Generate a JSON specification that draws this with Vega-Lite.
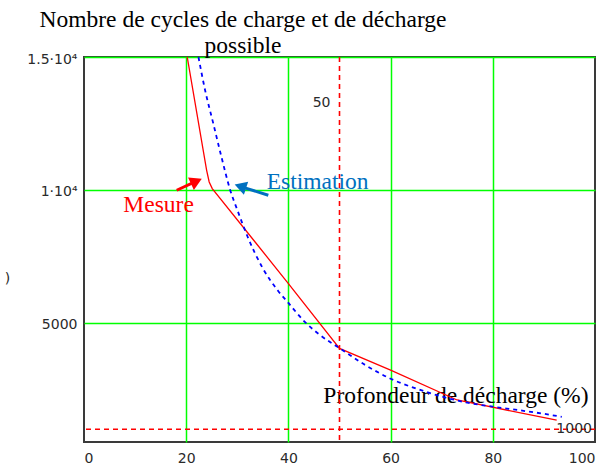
{
  "$schema": "https://vega.github.io/schema/vega-lite/v6.json",
  "width": 511,
  "height": 385,
  "autosize": {"type": "none"},
  "padding": {"left": 84, "top": 57, "right": 10, "bottom": 26},
  "background": "white",
  "title": {
    "text": ["Nombre de cycles de charge et de décharge", "possible"],
    "anchor": "start",
    "frame": "group",
    "align": "center",
    "dx": 159,
    "dy": 28,
    "baseline": "bottom",
    "offset": -1,
    "font": "Liberation Serif",
    "fontSize": 23.5,
    "fontWeight": "normal",
    "color": "black",
    "lineHeight": 26
  },
  "config": {
    "view": {"stroke": "#3a3a3a", "strokeWidth": 2}
  },
  "layer": [
    {
      "data": {"values": [
        {"x": 20.2, "y": 15000}, {"x": 24.0, "y": 10740}, {"x": 24.5, "y": 10300},
        {"x": 25.1, "y": 10050}, {"x": 40, "y": 6480}, {"x": 50, "y": 4040},
        {"x": 60, "y": 3220}, {"x": 73, "y": 2100}, {"x": 92.5, "y": 1340}
      ]},
      "mark": {"type": "line", "color": "#FF0000", "strokeWidth": 1.3, "clip": true},
      "encoding": {
        "x": {
          "field": "x", "type": "quantitative",
          "scale": {"domain": [0, 100], "nice": false},
          "axis": {
            "values": [0, 20, 40, 60, 80, 100],
            "grid": true,
            "gridColor": "#00FF00",
            "gridWidth": 1.5,
            "gridOpacity": {"condition": {"test": "datum.value == 0 || datum.value == 100", "value": 0}, "value": 1},
            "domain": false,
            "ticks": false,
            "labelFont": "DejaVu Sans",
            "labelFontSize": 14,
            "labelColor": "#2a2a2a",
            "labelPadding": 9,
            "labelFlush": true,
            "title": "Profondeur de décharge (%)",
            "titleFont": "Liberation Serif",
            "titleFontSize": 23.5,
            "titleFontWeight": "normal",
            "titleColor": "black",
            "titleX": 504,
            "titleY": -40,
            "titleAlign": "right",
            "titleBaseline": "alphabetic"
          }
        },
        "y": {
          "field": "y", "type": "quantitative",
          "scale": {"domain": [520, 15000], "nice": false, "zero": false},
          "axis": {
            "values": [5000, 10000, 15000],
            "labelExpr": "datum.value == 15000 ? '1.5·10⁴' : datum.value == 10000 ? '1·10⁴' : '5000'",
            "grid": true,
            "gridColor": "#00FF00",
            "gridWidth": 1.5,
            "domain": false,
            "ticks": false,
            "labelFont": "DejaVu Sans",
            "labelFontSize": 14,
            "labelColor": "#2a2a2a",
            "labelPadding": 7,
            "labelOffset": 2,
            "title": ")",
            "titleAngle": 0,
            "titleX": -77,
            "titleY": 221,
            "titleFont": "DejaVu Sans",
            "titleFontSize": 14,
            "titleFontWeight": "normal",
            "titleColor": "#2a2a2a",
            "titleAlign": "center",
            "titleBaseline": "middle"
          }
        }
      }
    },
    {
      "data": {"values": [
        {"x": 22.4, "y": 15000}, {"x": 23.7, "y": 13750}, {"x": 25.3, "y": 12500},
        {"x": 26.9, "y": 11240}, {"x": 28.6, "y": 10000}, {"x": 30, "y": 9250},
        {"x": 32, "y": 8250}, {"x": 35, "y": 7050}, {"x": 38, "y": 6200},
        {"x": 40, "y": 5750}, {"x": 43, "y": 5080}, {"x": 46, "y": 4570},
        {"x": 50, "y": 4050}, {"x": 55, "y": 3420}, {"x": 60, "y": 2900},
        {"x": 65, "y": 2530}, {"x": 70, "y": 2230}, {"x": 75, "y": 2000},
        {"x": 80, "y": 1850}, {"x": 85, "y": 1720}, {"x": 90, "y": 1580},
        {"x": 93.5, "y": 1466}
      ]},
      "mark": {"type": "line", "color": "#0000FF", "strokeWidth": 1.8, "strokeDash": [4, 4], "interpolate": "monotone", "clip": true},
      "encoding": {
        "x": {"field": "x", "type": "quantitative"},
        "y": {"field": "y", "type": "quantitative"}
      }
    },
    {
      "data": {"values": [{"x": 50}]},
      "mark": {"type": "rule", "color": "#FF0000", "strokeWidth": 1.6, "strokeDash": [5, 4]},
      "encoding": {"x": {"field": "x", "type": "quantitative"}}
    },
    {
      "data": {"values": [{"y": 1000}]},
      "mark": {"type": "rule", "color": "#FF0000", "strokeWidth": 1.6, "strokeDash": [5, 4]},
      "encoding": {"y": {"field": "y", "type": "quantitative"}}
    },
    {
      "data": {"values": [{"x": 50, "y": 13260, "label": "50"}]},
      "mark": {"type": "text", "align": "right", "baseline": "middle", "dx": -9, "font": "DejaVu Sans", "fontSize": 14, "color": "#2a2a2a"},
      "encoding": {
        "x": {"field": "x", "type": "quantitative"},
        "y": {"field": "y", "type": "quantitative"},
        "text": {"field": "label"}
      }
    },
    {
      "data": {"values": [{"x": 100, "y": 1000, "label": "1000"}]},
      "mark": {"type": "text", "align": "right", "baseline": "middle", "dx": -3, "font": "DejaVu Sans", "fontSize": 14, "color": "#2a2a2a"},
      "encoding": {
        "x": {"field": "x", "type": "quantitative"},
        "y": {"field": "y", "type": "quantitative"},
        "text": {"field": "label"}
      }
    },
    {
      "data": {"values": [{"x": 7.7, "y": 9160, "label": "Mesure"}]},
      "mark": {"type": "text", "align": "left", "baseline": "alphabetic", "font": "Liberation Serif", "fontSize": 23.5, "color": "#FF0000"},
      "encoding": {
        "x": {"field": "x", "type": "quantitative"},
        "y": {"field": "y", "type": "quantitative"},
        "text": {"field": "label"}
      }
    },
    {
      "data": {"values": [{"x": 35.75, "y": 10052, "label": "Estimation"}]},
      "mark": {"type": "text", "align": "left", "baseline": "alphabetic", "font": "Liberation Serif", "fontSize": 23.5, "color": "#0070C0"},
      "encoding": {
        "x": {"field": "x", "type": "quantitative"},
        "y": {"field": "y", "type": "quantitative"},
        "text": {"field": "label"}
      }
    },
    {
      "data": {"values": [{"x": 18.14, "y": 9988, "x2": 21.9, "y2": 10320}]},
      "mark": {"type": "rule", "color": "#FF0000", "strokeWidth": 3},
      "encoding": {
        "x": {"field": "x", "type": "quantitative"},
        "y": {"field": "y", "type": "quantitative"},
        "x2": {"field": "x2"},
        "y2": {"field": "y2"}
      }
    },
    {
      "data": {"values": [{"x": 21.99, "y": 10326}]},
      "mark": {"type": "point", "shape": "triangle-up", "filled": true, "opacity": 1, "color": "#FF0000", "size": 190, "angle": 65},
      "encoding": {
        "x": {"field": "x", "type": "quantitative"},
        "y": {"field": "y", "type": "quantitative"}
      }
    },
    {
      "data": {"values": [{"x": 36.07, "y": 9800, "x2": 30.7, "y2": 10125}]},
      "mark": {"type": "rule", "color": "#0070C0", "strokeWidth": 3},
      "encoding": {
        "x": {"field": "x", "type": "quantitative"},
        "y": {"field": "y", "type": "quantitative"},
        "x2": {"field": "x2"},
        "y2": {"field": "y2"}
      }
    },
    {
      "data": {"values": [{"x": 30.6, "y": 10131}]},
      "mark": {"type": "point", "shape": "triangle-up", "filled": true, "opacity": 1, "color": "#0070C0", "size": 190, "angle": 288},
      "encoding": {
        "x": {"field": "x", "type": "quantitative"},
        "y": {"field": "y", "type": "quantitative"}
      }
    }
  ]
}
